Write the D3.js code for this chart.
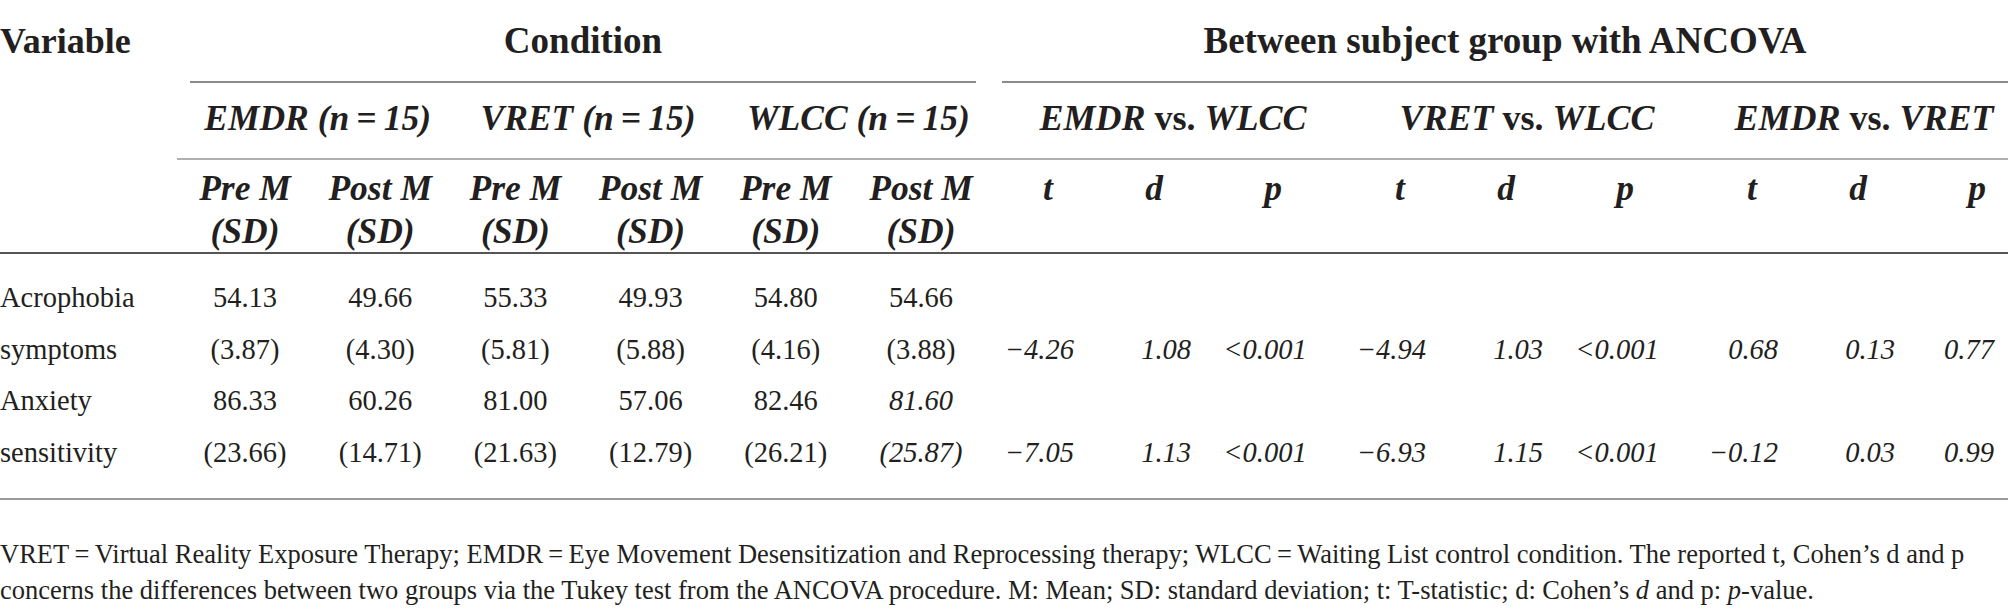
<!DOCTYPE html>
<html><head><meta charset="utf-8">
<script src="https://cdn.jsdelivr.net/npm/d3@7"></script>
<style>body{margin:0;background:#fff}svg{display:block}</style>
</head><body>
<svg id="chart" width="2008" height="614"></svg>
<script>
// ---------- data ----------
const variables = [["Acrophobia", "symptoms"], ["Anxiety", "sensitivity"]];
const conditions = ["EMDR", "VRET", "WLCC"];
const conditionN = [15, 15, 15];
const timepoints = ["Pre M", "Post M"];
const means = [[54.13, 49.66, 55.33, 49.93, 54.80, 54.66], [86.33, 60.26, 81.00, 57.06, 82.46, 81.60]];
const sds = [[3.87, 4.30, 5.81, 5.88, 4.16, 3.88], [23.66, 14.71, 21.63, 12.79, 26.21, 25.87]];
const comparisons = [["EMDR", "WLCC"], ["VRET", "WLCC"], ["EMDR", "VRET"]];
const statNames = ["t", "d", "p"];
const tValues = [[-4.26, -4.94, 0.68], [-7.05, -6.93, -0.12]];
const dValues = [[1.08, 1.03, 0.13], [1.13, 1.15, 0.03]];
const pValues = [["<0.001", "<0.001", "0.77"], ["<0.001", "<0.001", "0.99"]];
const footnote1 = "VRET\u2009=\u2009Virtual Reality Exposure Therapy; EMDR\u2009=\u2009Eye Movement Desensitization and Reprocessing therapy; WLCC\u2009=\u2009Waiting List control condition. The reported t, Cohen\u2019s d and p";
const footnote2 = [["concerns the differences between two groups via the Tukey test from the ANCOVA procedure. M: Mean; SD: standard deviation; t: T-statistic; d: Cohen\u2019s ", false], ["d", true], [" and p: ", false], ["p", true], ["-value.", false]];

// ---------- layout / style ----------
const FONT = "'Liberation Serif', 'Times New Roman', serif";
const INK = "#231f20";
const italicCells = [[1, 5]];
const svg = d3.select("#chart");

const condCols = d3.cross(conditions, timepoints).map(d => d.join("|"));
const xCond = d3.scalePoint().domain(condCols).range([245, 921]);
const xGroup = d3.scalePoint().domain(comparisons.map(c => c.join("|"))).range([0, 704]);
const statBase = { t: { x: 1074, anchor: "end", hx: 1048 }, d: { x: 1191, anchor: "end", hx: 1154 }, p: { x: 1265, anchor: "middle", hx: 1273 } };
const compCenters = [1173, 1527, 1864];
const yRows = d3.scalePoint().domain(d3.range(4)).range([307, 462]);
const fmt = d3.format(".2f");

function text(x, y, str, o = {}) {
  return svg.append("text").attr("x", x).attr("y", y).text(str)
    .attr("font-family", FONT).attr("font-size", o.size || 28.5)
    .attr("font-weight", o.weight || "normal").attr("font-style", o.style || "normal")
    .attr("text-anchor", o.anchor || "middle").attr("fill", INK);
}
function rule(x1, x2, y, color, w) {
  svg.append("line").attr("x1", x1).attr("x2", x2).attr("y1", y).attr("y2", y)
    .attr("stroke", color).attr("stroke-width", w);
}

// rules
rule(190, 976, 82, "#8a8a8a", 2);
rule(1002, 2008, 82, "#8a8a8a", 2);
rule(177, 2008, 159, "#b0b0b0", 2);
rule(0, 2008, 253, "#555555", 2);
rule(0, 2008, 499, "#9a9a9a", 2);

// header row 1
text(0, 53, "Variable", { size: 36, weight: "bold", anchor: "start" });
text((xCond.range()[0] + xCond.range()[1]) / 2, 53, "Condition", { size: 37, weight: "bold" });
text(1505, 53, "Between subject group with ANCOVA", { size: 37, weight: "bold" });

// header row 2 – conditions
conditions.forEach((c, i) => {
  const cx = (xCond(c + "|" + timepoints[0]) + xCond(c + "|" + timepoints[1])) / 2 + 5;
  text(cx, 130, `${c} (n\u2009=\u2009${conditionN[i]})`, { size: 35.5, weight: "bold", style: "italic" });
});
// header row 2 – comparisons
comparisons.forEach((c, i) => {
  const t = text(compCenters[i], 130, "", { size: 36, weight: "bold" });
  t.append("tspan").attr("font-style", "italic").text(c[0]);
  t.append("tspan").text(" vs. ");
  t.append("tspan").attr("font-style", "italic").text(c[1]);
});

// header row 3
condCols.forEach(k => {
  const tp = k.split("|")[1];
  text(xCond(k), 200, tp, { size: 35.5, weight: "bold", style: "italic" });
  text(xCond(k), 243, "(SD)", { size: 35.5, weight: "bold", style: "italic" });
});
comparisons.forEach(c => {
  const off = xGroup(c.join("|"));
  statNames.forEach(s => text(statBase[s].hx + off, 200, s, { size: 35.5, weight: "bold", style: "italic" }));
});

// body
variables.forEach((v, vi) => {
  text(0, yRows(vi * 2), v[0], { anchor: "start" });
  text(0, yRows(vi * 2 + 1), v[1], { anchor: "start" });
  condCols.forEach((k, ci) => {
    const it = italicCells.some(([r, c]) => r === vi && c === ci) ? "italic" : "normal";
    text(xCond(k), yRows(vi * 2), fmt(means[vi][ci]), { style: it });
    text(xCond(k), yRows(vi * 2 + 1), `(${fmt(sds[vi][ci])})`, { style: it });
  });
  comparisons.forEach((c, gi) => {
    const off = xGroup(c.join("|"));
    const y = yRows(vi * 2 + 1);
    text(statBase.t.x + off, y, fmt(tValues[vi][gi]), { style: "italic", anchor: statBase.t.anchor });
    text(statBase.d.x + off, y, fmt(dValues[vi][gi]), { style: "italic", anchor: statBase.d.anchor });
    text(statBase.p.x + off, y, pValues[vi][gi], { style: "italic", anchor: statBase.p.anchor });
  });
});

// footnote
text(0, 563, footnote1, { size: 26.5, anchor: "start" });
const f2 = text(0, 599, "", { size: 26.5, anchor: "start" });
footnote2.forEach(([s, it]) => f2.append("tspan").attr("font-style", it ? "italic" : "normal").text(s));
</script>
</body></html>
